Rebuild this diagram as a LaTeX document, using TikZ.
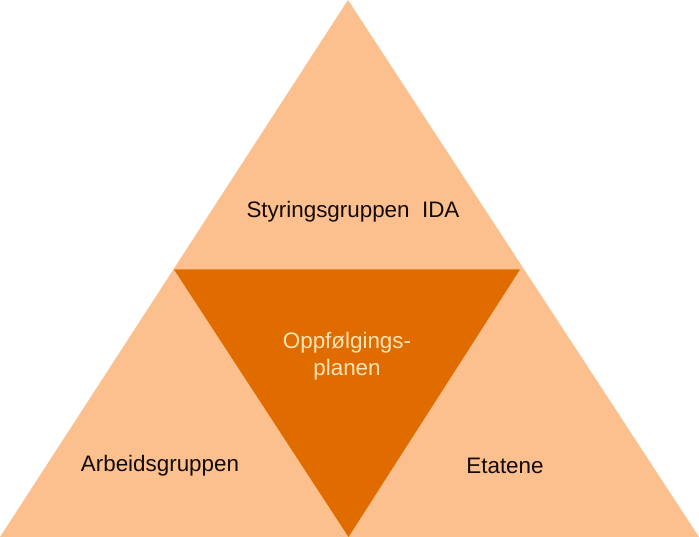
\documentclass[tikz,border=0pt]{standalone}
\usepackage{fontspec}
\setmainfont{Liberation Sans}
\definecolor{peach}{RGB}{251,192,142}
\definecolor{darkor}{RGB}{224,108,0}
\definecolor{lighttxt}{RGB}{255,228,184}
\definecolor{txt}{RGB}{20,10,5}
\begin{document}
\begin{tikzpicture}[x=1pt,y=-1pt,
  lbl/.style={font=\fontsize{22.4}{27}\selectfont, text=txt, inner sep=0pt},
  clbl/.style={font=\fontsize{22.4}{27}\selectfont, text=lighttxt, align=center, inner sep=0pt}]
\useasboundingbox (0,0) rectangle (699,537);
\fill[peach] (348,0) -- (699,537) -- (0,537) -- cycle;
\fill[darkor] (174,269.5) -- (520,269.5) -- (348.5,537) -- cycle;
\node[lbl] (top) at (353,212) {Styringsgruppen\ \ IDA};
\node[clbl] (mid) at (347,356) {Oppfølgings-\\planen};
\node[lbl] (left) at (160,466) {Arbeidsgruppen};
\node[lbl] (right) at (505,466) {Etatene};
\end{tikzpicture}
\end{document}
